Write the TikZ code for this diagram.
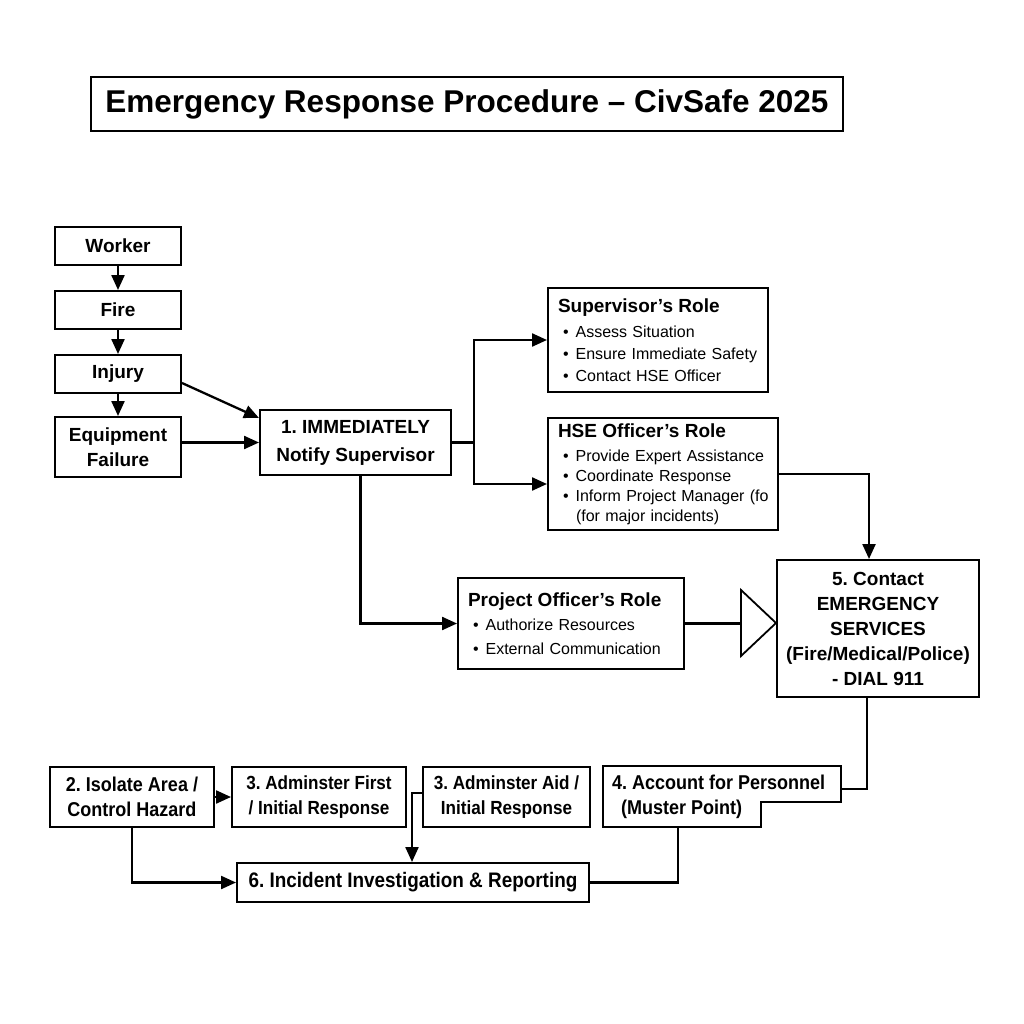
\documentclass[tikz,border=0pt]{standalone}
\usepackage{fontspec}
\setmainfont{Liberation Sans}
\newfontfamily\narrowfont[FakeStretch=0.9]{Liberation Sans}
\usetikzlibrary{arrows.meta,positioning,calc}
\frenchspacing

\tikzset{
  box/.style={draw, line width=2pt, anchor=north west, inner sep=0pt,
    align=center, font=\bfseries\fontsize{19}{25}\selectfont},
  rolebox/.style={box, align=left, inner xsep=10pt,
    font=\fontsize{16}{22}\selectfont},
  lowbox/.style={box, font=\narrowfont\bfseries\fontsize{20}{25}\selectfont},
  arr/.style={line width=2.3pt, -{Triangle[length=15pt,width=13pt]}},
  link/.style={line width=2.3pt},
}
\newcommand{\rolehead}[1]{{\bfseries\fontsize{19}{25}\selectfont #1}}
\newcommand{\bul}{\hspace*{5pt}\textbullet\hspace{7pt}}

\begin{document}
\begin{tikzpicture}[x=1pt, y=-1pt]
  \fill[white] (0,0) rectangle (1024,1024);
  \useasboundingbox (0,0) rectangle (1024,1024);

  % title
  \node[box, minimum width=752, minimum height=54,
    font=\bfseries\fontsize{31.5}{36}\selectfont] (title) at (90,76)
    {Emergency Response Procedure -- CivSafe 2025};

  % triggers
  \node[box, minimum width=126, minimum height=38] (worker) at (54,226) {Worker};
  \node[box, minimum width=126, minimum height=38] (fire) at (54,290) {Fire};
  \node[box, minimum width=126, minimum height=38] (injury) at (54,354) {Injury};
  \node[box, minimum width=126, minimum height=60] (equip) at (54,416) {Equipment\\Failure};

  \node[box, minimum width=191, minimum height=65,
    font=\bfseries\fontsize{19}{28}\selectfont] (notify) at (259,409)
    {1. IMMEDIATELY\\Notify Supervisor};

  % roles
  \node[rolebox, text width=200, minimum height=104] (sup) at (547,287)
    {\rolehead{Supervisor's Role}\\[3pt]
     \bul Assess Situation\\
     \bul Ensure Immediate Safety\\
     \bul Contact HSE Officer};
  \node[rolebox, text width=210, minimum height=112,
    font=\fontsize{16}{20}\selectfont] (hse) at (547,417)
    {\rolehead{HSE Officer's Role}\\[4pt]
     \bul Provide Expert Assistance\\
     \bul Coordinate Response\\
     \mbox{\bul Inform Project Manager (fo}\\
     \hspace*{18pt}(for major incidents)};
  \node[rolebox, text width=206, minimum height=91,
    font=\fontsize{16}{24}\selectfont] (proj) at (457,577)
    {\rolehead{Project Officer's Role}\\
     \bul Authorize Resources\\
     \bul External Communication};

  \node[box, minimum width=202, minimum height=137] (contact) at (776,559)
    {5. Contact\\EMERGENCY\\SERVICES\\(Fire/Medical/Police)\\- DIAL 911};

  % hollow arrowhead into 5
  \coordinate (tri) at (741,623);
  \draw[line width=1.8pt, line join=miter] (741,590) -- (776,623) -- (741,656) -- cycle;

  % lower row
  \node[lowbox, minimum width=164, minimum height=60] (isolate) at (49,766)
    {2. Isolate Area /\\Control Hazard};
  \node[lowbox, minimum width=174, minimum height=60,
    font=\narrowfont\bfseries\fontsize{19}{25}\selectfont] (first) at (231,766)
    {3. Adminster First\\/ Initial Response};
  \node[lowbox, minimum width=167, minimum height=60,
    font=\narrowfont\bfseries\fontsize{19}{25}\selectfont] (aid) at (422,766)
    {3. Adminster Aid /\\Initial Response};
  \draw[line width=2pt, line join=miter] (603,766) -- (841,766) -- (841,802) -- (761,802)
    -- (761,827) -- (603,827) -- cycle;
  \node[anchor=west, align=left, inner sep=0pt,
    font=\narrowfont\bfseries\fontsize{20}{25}\selectfont] (account) at (612,796.5)
    {4. Account for Personnel\\\hspace*{9pt}(Muster Point)};
  \coordinate (acc-e) at (841,789);
  \coordinate (acc-s) at (678,827);

  \node[lowbox, minimum width=352, minimum height=39,
    font=\narrowfont\bfseries\fontsize{21}{25}\selectfont] (report) at (236,862)
    {6. Incident Investigation \& Reporting};

  % connectors
  \draw[arr] (worker) -- (fire);
  \draw[arr] (fire) -- (injury);
  \draw[arr] (injury) -- (equip);
  \draw[arr] ([yshift=-9pt]injury.east) -- ([yshift=-9pt]notify.north west);
  \draw[arr] (equip.east |- notify.west) -- (notify.west);

  \draw[link] (notify.east) -- ++(22,0) coordinate (split);
  \draw[arr] (split) |- (sup.west);
  \draw[arr] (split) |- ([yshift=-10pt]hse.west);
  \draw[arr] (hse.east) -| ([xshift=-9pt]contact.north);
  \draw[arr] ([xshift=5pt]notify.south) |- (proj.west);
  \draw[link] (proj.east) -- (tri |- proj.east);
  \draw[link] ([xshift=-11pt]contact.south) |- (acc-e);

  \draw[arr] (isolate) -- (first);
  \draw[arr] ([yshift=4pt]aid.west) -- ++(-10,0) coordinate (aidbend)
    -- (aidbend |- report.north);
  \draw[arr] (isolate.south) |- (report.west);
  \draw[link] (acc-s) |- (report.east);
\end{tikzpicture}
\end{document}
